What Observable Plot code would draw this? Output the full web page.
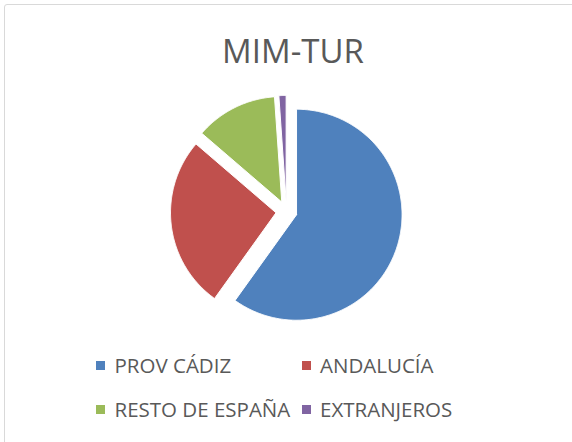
<!DOCTYPE html>
<html>
<head>
<meta charset="utf-8">
<script src="https://cdn.jsdelivr.net/npm/d3@7"></script>
<script src="https://cdn.jsdelivr.net/npm/@observablehq/plot@0.6"></script>
<style>
  html, body { margin: 0; padding: 0; background: #fff; }
  #wrap { position: relative; width: 572px; height: 442px; overflow: hidden; font-family: "Open Sans", sans-serif; color: #595959; }
  #frame { position: absolute; left: 4px; top: 4px; width: 600px; height: 480px; border: 1.5px solid #d9d9d9; border-radius: 3px; box-sizing: border-box; }
  #title { position: absolute; left: 0; width: 586px; top: 33.7px; text-align: center; font-size: 33px; line-height: 33px; white-space: nowrap; }
  #chart { position: absolute; left: 0; top: 80px; }
  .item { position: absolute; font-size: 20.5px; line-height: 20px; white-space: nowrap; }
  .sw { position: absolute; width: 9px; height: 9px; }
</style>
</head>
<body>
<div id="wrap">
  <div id="frame"></div>
  <div id="title">MIM-TUR</div>
  <div id="chart"></div>
  <div id="legend"></div>
</div>
<script>
const title = "MIM-TUR";
const categories = ["PROV CÁDIZ", "ANDALUCÍA", "RESTO DE ESPAÑA", "EXTRANJEROS"];
const values = [59.9, 26.4, 12.6, 1.1];
const colors = ["#4f81bd", "#c0504d", "#9bbb59", "#8064a2"];

const explode = 0.1; // fraction of radius
const arcs = d3.pie().sort(null).value(d => d.value).startAngle(0).endAngle(2 * Math.PI)(
  categories.map((c, i) => ({category: c, value: values[i]}))
);

// build polygon outlines for each slice (data units, radius = 1)
const pts = [];
for (const a of arcs) {
  const m = (a.startAngle + a.endAngle) / 2;
  const ox = explode * Math.sin(m), oy = explode * Math.cos(m);
  const n = Math.max(2, Math.ceil((a.endAngle - a.startAngle) / (Math.PI / 360)));
  pts.push({category: a.data.category, x: ox, y: oy});
  for (let k = 0; k <= n; k++) {
    const t = a.startAngle + (a.endAngle - a.startAngle) * k / n;
    pts.push({category: a.data.category, x: ox + Math.sin(t), y: oy + Math.cos(t)});
  }
  pts.push({category: a.data.category, x: ox, y: oy});
}

const cx = 286, cy = 131, r = 105.5;
const chart = Plot.plot({
  width: 572,
  height: 260,
  margin: 0,
  x: {domain: [-1, 1], range: [cx - r, cx + r], axis: null},
  y: {domain: [-1, 1], range: [cy + r, cy - r], axis: null},
  color: {domain: categories, range: colors},
  marks: [
    Plot.line(pts, {x: "x", y: "y", z: "category", fill: "category", stroke: "white", strokeWidth: 1, strokeLinejoin: "miter", curve: "linear"})
  ]
});
document.getElementById("chart").appendChild(chart);

// legend
const legend = document.getElementById("legend");
const colX = [96, 301.5];
const rowTop = [355.2, 399.2];
categories.forEach((c, i) => {
  const col = i % 2, row = Math.floor(i / 2);
  const sw = document.createElement("div");
  sw.className = "sw";
  sw.style.left = colX[col] + "px";
  sw.style.top = (rowTop[row] + 5.4) + "px";
  sw.style.background = colors[i];
  legend.appendChild(sw);
  const t = document.createElement("div");
  t.className = "item";
  t.style.left = (colX[col] + 18.5) + "px";
  t.style.top = rowTop[row] + "px";
  t.textContent = c;
  legend.appendChild(t);
});
</script>
</body>
</html>
